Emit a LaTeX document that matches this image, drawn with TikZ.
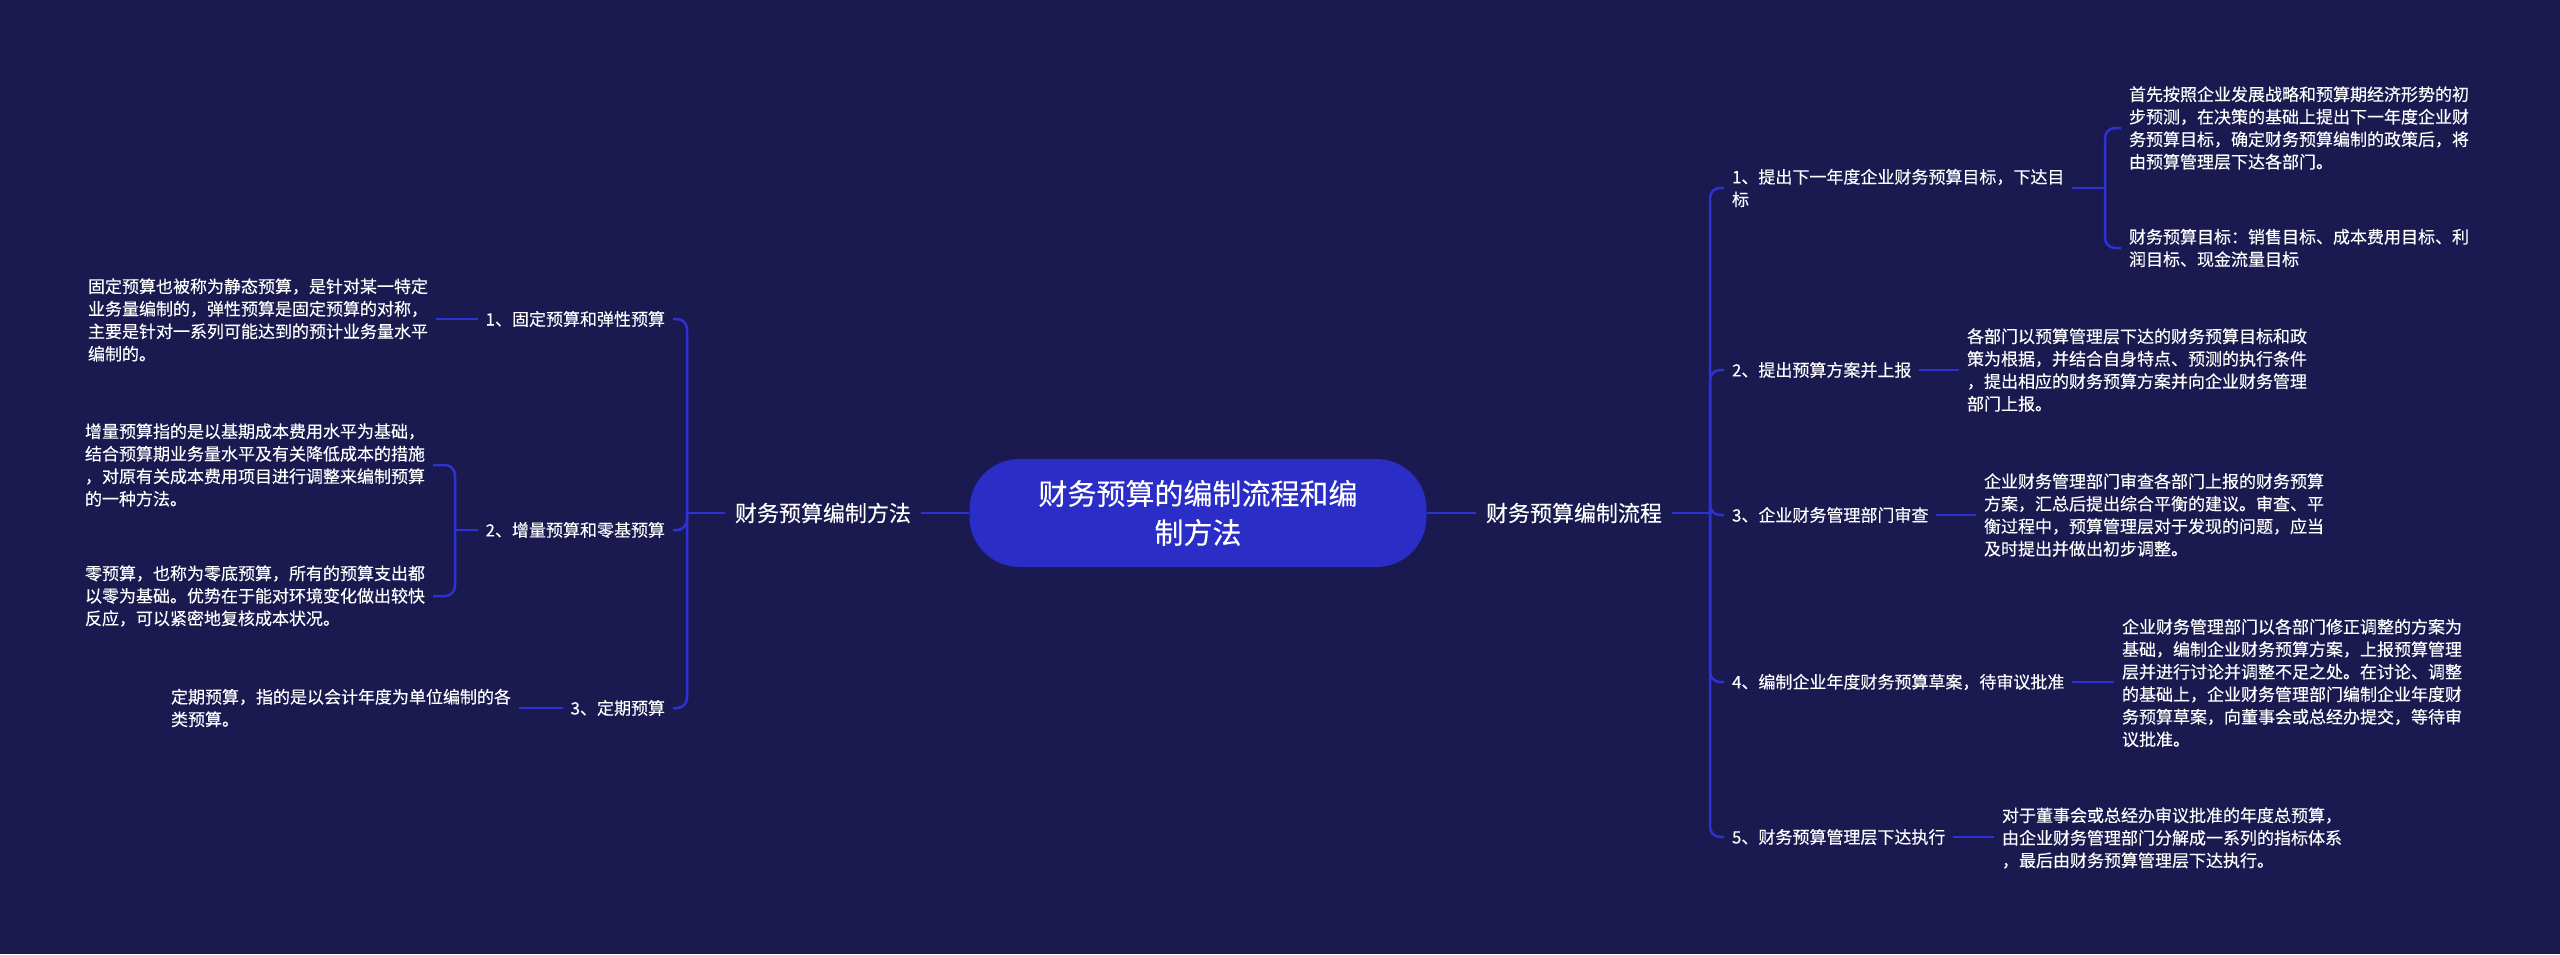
\documentclass[tikz,border=0pt]{standalone}
\usepackage{fontspec}
\setmainfont{Noto Sans CJK SC}[FakeBold=0.2]
\definecolor{bg}{HTML}{1A1950}
\definecolor{nodeblue}{HTML}{2A2DC6}
\definecolor{linkblue}{HTML}{2D32D2}
\tikzset{
 txt/.style={text=white, inner sep=0pt, outer sep=8pt, align=left, font=\fontsize{17}{22.5}\selectfont},
 mainlbl/.style={text=white, inner sep=0pt, outer sep=10pt, font=\fontsize{22}{28}\selectfont},
 root/.style={fill=nodeblue, text=white, rounded corners=50pt, minimum width=457pt, minimum height=108pt, align=center, font=\fontsize{29}{39}\selectfont, inner sep=0pt},
 link/.style={draw=linkblue, line width=2.5pt},
 brace/.style={link, rounded corners=10pt},
}
\begin{document}
\begin{tikzpicture}[x=1pt,y=-1pt]
\fill[bg] (0,0) rectangle (2560,954);
\useasboundingbox (0,0) rectangle (2560,954);

% root and main branches
\node[root] (root) at (1198,513) {财务预算的编制流程和编\\制方法};
\node[mainlbl, anchor=west] (mR) at (1476,513) {财务预算编制流程};
\node[mainlbl, anchor=east] (mL) at (921,513) {财务预算编制方法};

% right children
\node[txt, anchor=west] (R1) at (1724,188) {1、提出下一年度企业财务预算目标，下达目\\标};
\node[txt, anchor=west] (R2) at (1724,370) {2、提出预算方案并上报};
\node[txt, anchor=west] (R3) at (1724,515) {3、企业财务管理部门审查};
\node[txt, anchor=west] (R4) at (1724,682) {4、编制企业年度财务预算草案，待审议批准};
\node[txt, anchor=west] (R5) at (1724,837) {5、财务预算管理层下达执行};

% right grandchildren
\node[txt, anchor=west] (G1a) at (2121,128) {首先按照企业发展战略和预算期经济形势的初\\步预测，在决策的基础上提出下一年度企业财\\务预算目标，确定财务预算编制的政策后，将\\由预算管理层下达各部门。};
\node[txt, anchor=west] (G1b) at (2121,248) {财务预算目标：销售目标、成本费用目标、利\\润目标、现金流量目标};
\node[txt, anchor=west] (G2) at (1959,370) {各部门以预算管理层下达的财务预算目标和政\\策为根据，并结合自身特点、预测的执行条件\\，提出相应的财务预算方案并向企业财务管理\\部门上报。};
\node[txt, anchor=west] (G3) at (1976,515) {企业财务管理部门审查各部门上报的财务预算\\方案，汇总后提出综合平衡的建议。审查、平\\衡过程中，预算管理层对于发现的问题，应当\\及时提出并做出初步调整。};
\node[txt, anchor=west] (G4) at (2114,683) {企业财务管理部门以各部门修正调整的方案为\\基础，编制企业财务预算方案，上报预算管理\\层并进行讨论并调整不足之处。在讨论、调整\\的基础上，企业财务管理部门编制企业年度财\\务预算草案，向董事会或总经办提交，等待审\\议批准。};
\node[txt, anchor=west] (G5) at (1994,838) {对于董事会或总经办审议批准的年度总预算，\\由企业财务管理部门分解成一系列的指标体系\\，最后由财务预算管理层下达执行。};

% left children
\node[txt, anchor=east] (L1) at (673,319) {1、固定预算和弹性预算};
\node[txt, anchor=east] (L2) at (673,530) {2、增量预算和零基预算};
\node[txt, anchor=east] (L3) at (673,708) {3、定期预算};

% left grandchildren
\node[txt, anchor=west] (GL1) at (80,320) {固定预算也被称为静态预算，是针对某一特定\\业务量编制的，弹性预算是固定预算的对称，\\主要是针对一系列可能达到的预计业务量水平\\编制的。};
\node[txt, anchor=west] (GL2a) at (77,465) {增量预算指的是以基期成本费用水平为基础，\\结合预算期业务量水平及有关降低成本的措施\\，对原有关成本费用项目进行调整来编制预算\\的一种方法。};
\node[txt, anchor=west] (GL2b) at (77,596) {零预算，也称为零底预算，所有的预算支出都\\以零为基础。优势在于能对环境变化做出较快\\反应，可以紧密地复核成本状况。};
\node[txt, anchor=west] (GL3) at (163,708) {定期预算，指的是以会计年度为单位编制的各\\类预算。};

% connectors: root
\draw[link] (root) -- (mR);
\draw[link] (root) -- (mL);

% right bracket
\coordinate (jR) at (1710,513);
\draw[link] (mR) -- (jR);
\foreach \c in {R1,R2,R3,R4,R5} \draw[brace] (jR) |- (\c.west);

\coordinate (j1) at (2105,188);
\draw[link] (R1.east) -- (j1);
\draw[brace] (j1) |- (G1a.west);
\draw[brace] (j1) |- (G1b.west);
\draw[link] (R2.east) -- (R2.east -| G2.west);
\draw[link] (R3.east) -- (R3.east -| G3.west);
\draw[link] (R4.east) -- (R4.east -| G4.west);
\draw[link] (R5.east) -- (R5.east -| G5.west);

% left bracket
\coordinate (jL) at (687,513);
\draw[link] (mL) -- (jL);
\foreach \c in {L1,L2,L3} \draw[brace] (jL) |- (\c.east);

\draw[link] (L1.west) -- (L1.west -| GL1.east);
\coordinate (jL2) at (455,530);
\draw[link] (L2.west) -- (jL2);
\draw[brace] (jL2) |- (GL2a.east);
\draw[brace] (jL2) |- (GL2b.east);
\draw[link] (L3.west) -- (L3.west -| GL3.east);
\end{tikzpicture}
\end{document}
